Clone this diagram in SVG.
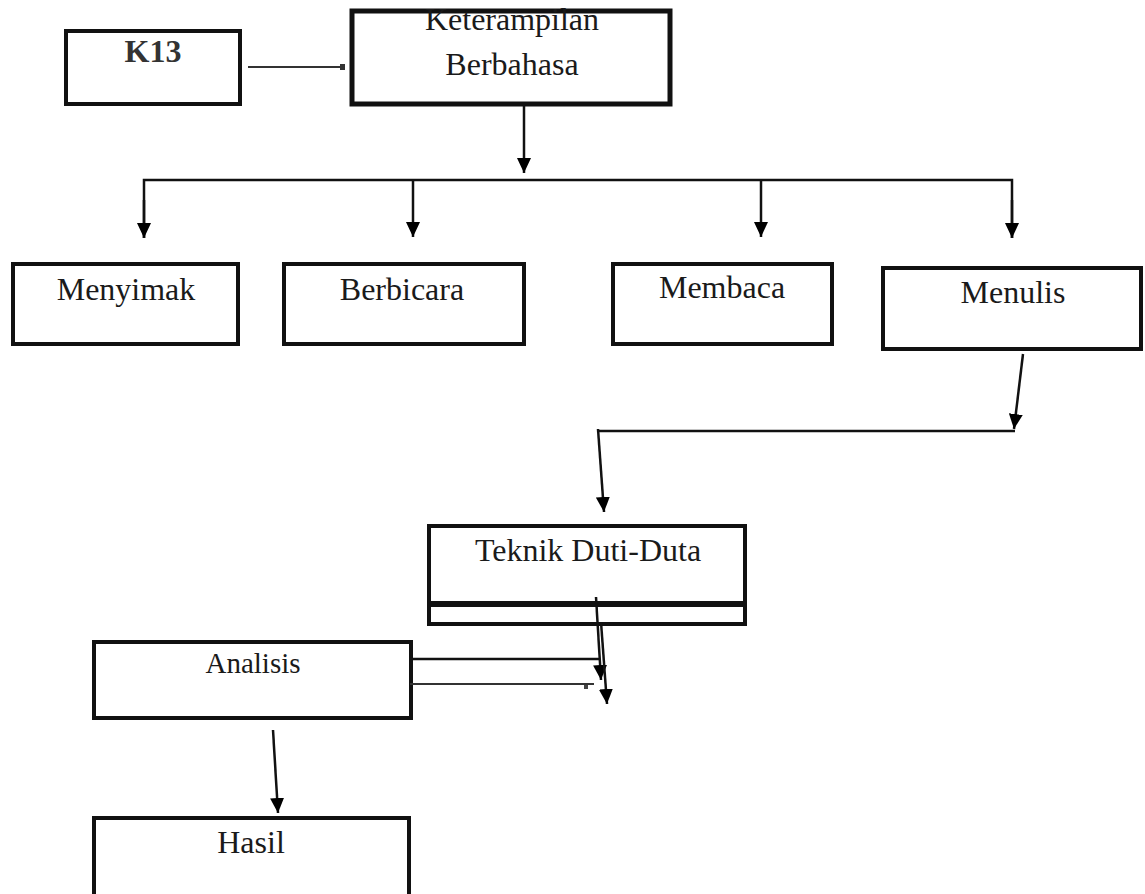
<svg xmlns="http://www.w3.org/2000/svg" width="1145" height="894" viewBox="0 0 1145 894">
<style>
.box{fill:#fff;stroke:#111;stroke-width:4}
.t{font-family:"Liberation Serif","Times New Roman",serif;font-size:32px;fill:#1a1a1a;text-anchor:middle}
.c{stroke:#111;stroke-width:2.5;fill:none}
.g{stroke:#333;stroke-width:2;fill:none}
</style>
<defs>
<marker id="ah" viewBox="0 0 15 14" refX="15" refY="7" markerWidth="15" markerHeight="14" markerUnits="userSpaceOnUse" orient="auto">
<path d="M0,0 L15,7 L0,14 z" fill="#000"/>
</marker>
</defs>
<rect width="1145" height="894" fill="#fff"/>

<g id="k13">
<rect class="box" x="66" y="31" width="174" height="73"/>
<text class="t" x="153" y="62" style="font-weight:bold;fill:#333">K13</text>
</g>
<g id="keterampilan">
<rect class="box" x="352" y="11" width="318" height="93" style="stroke-width:5"/>
<text class="t" x="512" y="30">Keterampilan</text>
<text class="t" x="512" y="75">Berbahasa</text>
</g>
<g id="menyimak">
<rect class="box" x="13" y="264" width="225" height="80"/>
<text class="t" x="126" y="300">Menyimak</text>
</g>
<g id="berbicara">
<rect class="box" x="284" y="264" width="240" height="80"/>
<text class="t" x="402" y="300">Berbicara</text>
</g>
<g id="membaca">
<rect class="box" x="613" y="264" width="219" height="80"/>
<text class="t" x="722" y="298">Membaca</text>
</g>
<g id="menulis">
<rect class="box" x="883" y="268" width="258" height="81"/>
<text class="t" x="1013" y="303">Menulis</text>
</g>
<g id="teknik">
<rect class="box" x="429" y="526" width="316" height="77"/>
<rect class="box" x="429" y="605" width="316" height="19"/>
<text class="t" x="588" y="561">Teknik Duti-Duta</text>
</g>
<g id="analisis">
<rect class="box" x="94" y="642" width="317" height="76"/>
<text class="t" x="253" y="673" style="font-size:29px">Analisis</text>
</g>
<g id="hasil">
<rect class="box" x="94" y="818" width="315" height="100"/>
<text class="t" x="251" y="853">Hasil</text>
</g>

<g id="connectors">
<line class="g" x1="248" y1="67" x2="345" y2="67"/>
<rect x="340" y="64" width="5" height="6" fill="#333"/>
<line class="c" x1="524" y1="105" x2="524" y2="173" marker-end="url(#ah)"/>
<polyline class="c" points="144,238 144,180 1012,180 1012,238"/>
<line class="c" x1="144" y1="200" x2="144" y2="238" marker-end="url(#ah)"/>
<line class="c" x1="413" y1="180" x2="413" y2="237" marker-end="url(#ah)"/>
<line class="c" x1="761" y1="180" x2="761" y2="237" marker-end="url(#ah)"/>
<line class="c" x1="1012" y1="200" x2="1012" y2="238" marker-end="url(#ah)"/>
<line class="c" x1="1023" y1="354" x2="1014" y2="429" marker-end="url(#ah)"/>
<line class="c" x1="598" y1="431" x2="1015" y2="431"/>
<line class="c" x1="598" y1="429" x2="604" y2="512" marker-end="url(#ah)"/>
<line class="c" x1="413" y1="659" x2="600" y2="659"/>
<line class="g" x1="410" y1="684" x2="594" y2="684"/>
<rect x="584" y="685" width="4" height="4" fill="#444"/>
<line class="c" x1="596" y1="597" x2="601" y2="680" marker-end="url(#ah)"/>
<line class="c" x1="601" y1="622" x2="607" y2="704" marker-end="url(#ah)"/>
<line class="c" x1="273" y1="730" x2="278" y2="813" marker-end="url(#ah)"/>
</g>
</svg>
